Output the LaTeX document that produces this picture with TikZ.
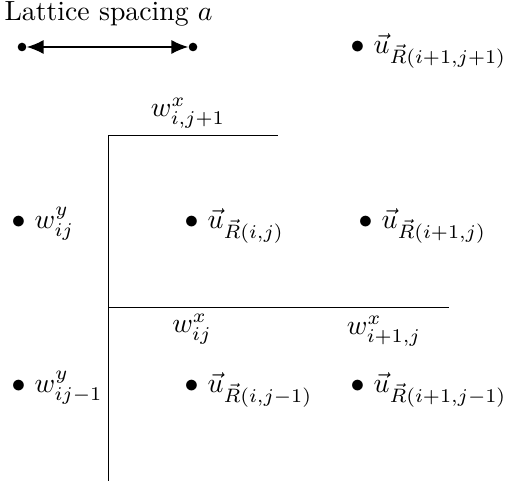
\documentclass[tikz,border=0pt]{standalone}
\usetikzlibrary{arrows.meta}
\begin{document}
\begin{tikzpicture}[x=0.36pt,y=-0.36pt,
  lbl/.style={anchor=base west,inner sep=0pt},
  wlbl/.style={anchor=base,inner sep=0pt},
  dotn/.style={circle,fill=black,inner sep=0pt,minimum size=3.1pt},
  grid line/.style={line width=0.35pt}]
\useasboundingbox (0,0) rectangle (505,481);
\node[lbl] (title) at (4,21) {Lattice spacing $a$};
\node[dotn] (da) at (22,47) {};
\node[dotn] (db) at (193,47) {};
\draw[{Latex[length=6pt,width=5pt]}-{Latex[length=6pt,width=5pt]},line width=0.45pt] (da) -- (db);
\node[lbl] (u11) at (350,54) {$\bullet$ $\vec u_{\vec R(i+1,j+1)}$};
\node[lbl] (wy0) at (11,229) {$\bullet$ $w^y_{ij}$};
\node[lbl] (u00) at (184,229) {$\bullet$ $\vec u_{\vec R(i,j)}$};
\node[lbl] (u10) at (358,229) {$\bullet$ $\vec u_{\vec R(i+1,j)}$};
\node[lbl] (wy1) at (11,393) {$\bullet$ $w^y_{ij-1}$};
\node[lbl] (u01) at (184,393) {$\bullet$ $\vec u_{\vec R(i,j-1)}$};
\node[lbl] (u11b) at (350,393) {$\bullet$ $\vec u_{\vec R(i+1,j-1)}$};
\coordinate (vb) at (108,481);
\coordinate (vt) at (108,135);
\coordinate (tr) at (278,135);
\coordinate (ml) at (108,307);
\coordinate (mr) at (449,307);
\draw[grid line] (vb) -- (vt) -- (tr);
\draw[grid line] (ml) -- (mr);
\node[wlbl] (wxt) at (188,117) {$w^x_{i,j+1}$};
\node[wlbl] (wx0) at (192,333) {$w^x_{ij}$};
\node[wlbl] (wx1) at (384,335) {$w^x_{i+1,j}$};
\end{tikzpicture}
\end{document}
